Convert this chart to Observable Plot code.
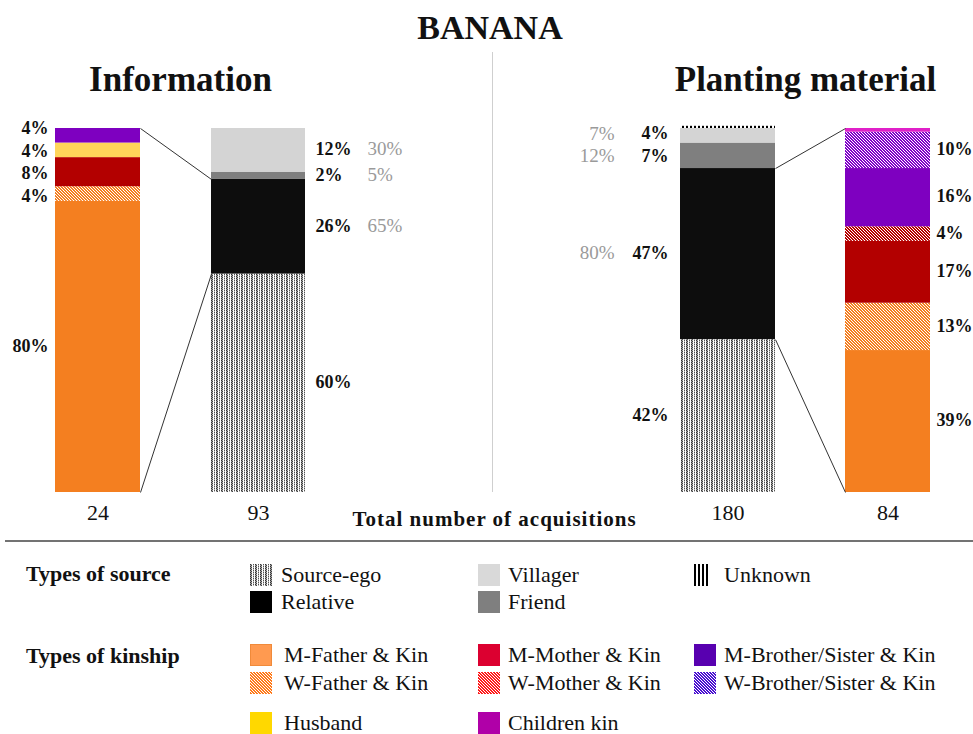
<!DOCTYPE html>
<html><head><meta charset="utf-8">
<script src="https://cdn.jsdelivr.net/npm/d3@7"></script>
<script src="https://cdn.jsdelivr.net/npm/@observablehq/plot@0.6"></script>
<style>
body{margin:0;background:#fff;font-family:"Liberation Serif","Times New Roman",serif;color:#111;}
#wrap{position:relative;width:973px;height:734px;overflow:hidden;background:#fff}
#title{position:absolute;left:0;top:4px;width:980px;text-align:center;font-weight:bold;font-size:34px;line-height:48px;font-family:"Liberation Serif",serif}
#chart{position:absolute;left:0;top:52px}
.lg{position:absolute;font-family:"Liberation Serif","Times New Roman",serif;font-size:22px;line-height:24px;white-space:nowrap;color:#111}
.lgh{position:absolute;font-family:"Liberation Serif","Times New Roman",serif;font-size:22px;line-height:24px;white-space:nowrap;font-weight:bold;color:#111}
.sw{position:absolute}
</style></head>
<body>
<svg width="0" height="0" style="position:absolute"><defs id="defs"></defs></svg>
<div id="wrap">
  <div id="title">BANANA</div>
  <div id="chart"></div>
  <div id="legend"></div>
</div>
<script>
// ---------------- DATA ----------------
const panels = ["Information", "Planting material"];

const infoKinCats = ["M-Father & Kin", "W-Father & Kin", "M-Mother & Kin", "Husband", "M-Brother/Sister & Kin"];
const infoKinValues = [80, 4, 8, 4, 4];

const infoSrcCats = ["Source-ego", "Relative", "Friend", "Villager"];
const infoSrcValues = [60, 26, 2, 12];
const infoSrcOtherShare = [null, 65, 5, 30];

const plantSrcCats = ["Source-ego", "Relative", "Friend", "Villager", "Unknown"];
const plantSrcValues = [42, 47, 7, 4, 0.6];
const plantSrcOtherShare = [null, 80, 12, 7, null];

const plantKinCats = ["M-Father & Kin", "W-Father & Kin", "M-Mother & Kin", "W-Mother & Kin", "M-Brother/Sister & Kin", "W-Brother/Sister & Kin", "Children kin"];
const plantKinValues = [39, 13, 17, 4, 16, 10, 1];

const totals = [24, 93, 180, 84];
const totalsLabel = "Total number of acquisitions";

const sourceLegendCols = [["Source-ego", "Relative"], ["Villager", "Friend"], ["Unknown"]];
const kinLegendCols = [["M-Father & Kin", "W-Father & Kin", "Husband"], ["M-Mother & Kin", "W-Mother & Kin", "Children kin"], ["M-Brother/Sister & Kin", "W-Brother/Sister & Kin"]];

// ---------------- PATTERNS ----------------
const defs = d3.select("#defs");
function hatch(id, color) {
  const p = defs.append("pattern").attr("id", id).attr("patternUnits", "userSpaceOnUse").attr("width", 3).attr("height", 3);
  p.append("rect").attr("width", 3).attr("height", 3).attr("fill", "#fff");
  [[0,0],[1,0],[1,1],[2,1],[2,2],[0,2]].forEach(([x, y]) =>
    p.append("rect").attr("x", x).attr("y", y).attr("width", 1).attr("height", 1).attr("fill", color).attr("shape-rendering", "crispEdges"));
}
hatch("hWF", "#f47f20"); hatch("hWM", "#b50000"); hatch("hWB", "#8000c8");
hatch("lWF", "#ff7a1a"); hatch("lWM", "#ff1a1a"); hatch("lWB", "#4a10d0");
(function () {
  const e = defs.append("pattern").attr("id", "ego").attr("patternUnits", "userSpaceOnUse").attr("width", 5).attr("height", 2);
  e.append("rect").attr("width", 5).attr("height", 2).attr("fill", "#fff");
  [[0,0,"#333"],[0,1,"#999"],[1,0,"#aaa"],[1,1,"#444"],[3,0,"#555"],[3,1,"#bbb"]].forEach(([x, y, c]) =>
    e.append("rect").attr("x", x).attr("y", y).attr("width", 1).attr("height", 1).attr("fill", c).attr("shape-rendering", "crispEdges"));
  const u = defs.append("pattern").attr("id", "unk").attr("patternUnits", "userSpaceOnUse").attr("width", 4).attr("height", 4);
  u.append("rect").attr("width", 4).attr("height", 4).attr("fill", "#fff");
  u.append("rect").attr("width", 2).attr("height", 4).attr("fill", "#000");
})();

const barFill = {
  "M-Father & Kin": "#f47f20", "W-Father & Kin": "url(#hWF)",
  "M-Mother & Kin": "#b30000", "W-Mother & Kin": "url(#hWM)",
  "M-Brother/Sister & Kin": "#7e00c0", "W-Brother/Sister & Kin": "url(#hWB)",
  "Husband": "#ffd55a", "Children kin": "#e020c8",
  "Source-ego": "url(#ego)", "Relative": "#0d0d0d", "Friend": "#7f7f7f", "Villager": "#d4d4d4", "Unknown": "url(#unk)"
};
const legendFill = {
  "M-Father & Kin": "#ff9a50", "W-Father & Kin": "url(#lWF)",
  "M-Mother & Kin": "#dc0030", "W-Mother & Kin": "url(#lWM)",
  "M-Brother/Sister & Kin": "#5800b0", "W-Brother/Sister & Kin": "url(#lWB)",
  "Husband": "#ffd800", "Children kin": "#b000a8",
  "Source-ego": "url(#ego)", "Relative": "#000", "Friend": "#7f7f7f", "Villager": "#d9d9d9", "Unknown": "url(#unk)"
};

// ---------------- BUILD TABLES ----------------
const slot = {
  "Information|kin": [0, 0.34], "Information|src": [0.624, 1],
  "Planting material|src": [0, 0.38], "Planting material|kin": [0.66, 1]
};
const segs = [];
function addBar(panel, kind, cats, values, others) {
  let acc = 0;
  cats.forEach((c, i) => {
    const v = values[i];
    segs.push({panel, bar: panel + "|" + kind, cat: c, value: v, y1: acc, y2: acc + v, ly: acc + v / 2, other: others ? others[i] : null});
    acc += v;
  });
}
addBar("Information", "kin", infoKinCats, infoKinValues);
addBar("Information", "src", infoSrcCats, infoSrcValues, infoSrcOtherShare);
addBar("Planting material", "src", plantSrcCats, plantSrcValues, plantSrcOtherShare);
addBar("Planting material", "kin", plantKinCats, plantKinValues);

const rel = b => segs.find(d => d.bar === b && d.cat === "Relative");
const topOf = b => d3.max(segs.filter(d => d.bar === b), d => d.y2);
const iRel = rel("Information|src"), pRel = rel("Planting material|src");
const links = [
  {panel: "Information", x1: slot["Information|kin"][1], y1: topOf("Information|kin"), x2: slot["Information|src"][0], y2: iRel.y2},
  {panel: "Information", x1: slot["Information|kin"][1], y1: 0, x2: slot["Information|src"][0], y2: iRel.y1},
  {panel: "Planting material", x1: slot["Planting material|src"][1], y1: pRel.y2, x2: slot["Planting material|kin"][0], y2: topOf("Planting material|kin")},
  {panel: "Planting material", x1: slot["Planting material|src"][1], y1: pRel.y1, x2: slot["Planting material|kin"][0], y2: 0}
];
const barOrder = ["Information|kin", "Information|src", "Planting material|src", "Planting material|kin"];
const counts = barOrder.map((b, i) => ({panel: b.split("|")[0], bar: b, n: totals[i]}));

const labeled = segs.filter(d => d.value >= 2);
const ofBar = b => labeled.filter(d => d.bar === b);
// spread labels of one bar so they do not overlap (min gap in y units)
function spread(items, minGap) {
  for (let it = 0; it < 100; it++) {
    let moved = false;
    items.sort((a, b) => b.ly - a.ly);
    for (let i = 0; i < items.length - 1; i++) {
      const gap = items[i].ly - items[i + 1].ly;
      if (gap < minGap - 1e-6) { const d = (minGap - gap) / 2; items[i].ly += d; items[i + 1].ly -= d; moved = true; }
    }
    if (!moved) break;
  }
}
barOrder.forEach(b => spread(ofBar(b), 6.2));

const common = {fx: "panel", y: "ly", dy: -1, lineAnchor: "middle"};
const plot = Plot.plot({
  width: 973, height: 493,
  marginTop: 76, marginBottom: 53, marginLeft: 54, marginRight: 43,
  style: {fontFamily: "'Liberation Serif', serif", fontSize: "18px", color: "#111", background: "transparent", overflow: "visible"},
  fx: {domain: panels, paddingInner: 0.6006, paddingOuter: 0, label: null},
  x: {domain: [0, 1], axis: null},
  y: {domain: [0, 100], axis: null},
  color: {type: "identity"},
  marks: [
    Plot.axisFx({anchor: "top", label: null, tickSize: 0, tickPadding: 38, fontSize: 35, fontWeight: "bold", fill: "#111"}),
    Plot.rect(segs, {fx: "panel", x1: d => slot[d.bar][0], x2: d => slot[d.bar][1], y1: "y1", y2: "y2", fill: d => barFill[d.cat]}),
    Plot.link(links, {fx: "panel", x1: "x1", y1: "y1", x2: "x2", y2: "y2", stroke: "#333", strokeWidth: 1}),
    Plot.text(ofBar("Information|kin"), {...common, x: d => slot[d.bar][0], text: d => d.value + "%", textAnchor: "end", dx: -7, fontWeight: "bold", fontSize: 18, fill: "#111"}),
    Plot.text(ofBar("Information|src"), {...common, x: d => slot[d.bar][1], text: d => d.value + "%", textAnchor: "start", dx: 10, fontWeight: "bold", fontSize: 18, fill: "#111"}),
    Plot.text(ofBar("Information|src").filter(d => d.other != null), {...common, x: d => slot[d.bar][1], text: d => d.other + "%", textAnchor: "start", dx: 62, fontSize: 19, fill: "#9a9a9a"}),
    Plot.text(ofBar("Planting material|src"), {...common, x: d => slot[d.bar][0], text: d => d.value + "%", textAnchor: "end", dx: -12, fontWeight: "bold", fontSize: 18, fill: "#111"}),
    Plot.text(ofBar("Planting material|src").filter(d => d.other != null), {...common, x: d => slot[d.bar][0], text: d => d.other + "%", textAnchor: "end", dx: -66, fontSize: 19, fill: "#9a9a9a"}),
    Plot.text(ofBar("Planting material|kin"), {...common, x: d => slot[d.bar][1], text: d => d.value + "%", textAnchor: "start", dx: 6, fontWeight: "bold", fontSize: 18, fill: "#111"}),
    Plot.text(counts, {fx: "panel", x: d => (slot[d.bar][0] + slot[d.bar][1]) / 2, frameAnchor: "bottom", dy: 27, text: d => String(d.n), fontSize: 22, fill: "#111"})
  ]
});
document.getElementById("chart").appendChild(plot);

// divider, total label, bottom rule — placed from the fx scale
const fx = plot.scale("fx");
const svg = d3.select(plot.tagName.toLowerCase() === "svg" ? plot : plot.querySelector("svg"));
const midX = (fx.apply(panels[0]) + fx.bandwidth + fx.apply(panels[1])) / 2;
svg.append("line").attr("x1", midX).attr("x2", midX).attr("y1", 0).attr("y2", 440).attr("stroke", "#cfcfcf").attr("stroke-width", 1);
svg.append("text").attr("x", midX + 2).attr("y", 467).attr("dy", "0.35em").attr("text-anchor", "middle")
  .attr("font-weight", "bold").attr("font-size", 21).attr("letter-spacing", "1px").attr("fill", "#111").text(totalsLabel);
svg.append("line").attr("x1", 5).attr("x2", 973).attr("y1", 489).attr("y2", 489).attr("stroke", "#444").attr("stroke-width", 1.5);

// ---------------- LEGEND ----------------
const legend = document.getElementById("legend");
function heading(text, cy) {
  const d = document.createElement("div"); d.className = "lgh"; d.textContent = text;
  d.style.left = "26px"; d.style.top = (cy - 12) + "px"; legend.appendChild(d);
}
function item(cat, swx, txtx, cy) {
  const w = cat === "Unknown" ? 14 : 22;
  const s = document.createElementNS("http://www.w3.org/2000/svg", "svg");
  s.setAttribute("class", "sw"); s.setAttribute("width", w); s.setAttribute("height", 22);
  s.style.left = swx + "px"; s.style.top = (cy - 11) + "px";
  const r = document.createElementNS("http://www.w3.org/2000/svg", "rect");
  r.setAttribute("width", w); r.setAttribute("height", 22); r.setAttribute("fill", legendFill[cat]);
  if (cat === "M-Father & Kin") { r.setAttribute("stroke", "#f08a3a"); r.setAttribute("x", 0.5); r.setAttribute("y", 0.5); r.setAttribute("width", w - 1); r.setAttribute("height", 21); }
  s.appendChild(r); legend.appendChild(s);
  const d = document.createElement("div"); d.className = "lg"; d.textContent = cat;
  d.style.left = txtx + "px"; d.style.top = (cy - 12) + "px"; legend.appendChild(d);
}
const colSw = [250, 478, 694], colTx = [281, 508, 724];
heading("Types of source", 574);
sourceLegendCols.forEach((col, ci) => col.forEach((cat, ri) => item(cat, colSw[ci], colTx[ci], [575, 602][ri])));
heading("Types of kinship", 656);
kinLegendCols.forEach((col, ci) => col.forEach((cat, ri) => item(cat, colSw[ci], colTx[ci] + (ci === 0 ? 3 : 0), [655, 683, 723][ri])));
</script>
</body></html>
